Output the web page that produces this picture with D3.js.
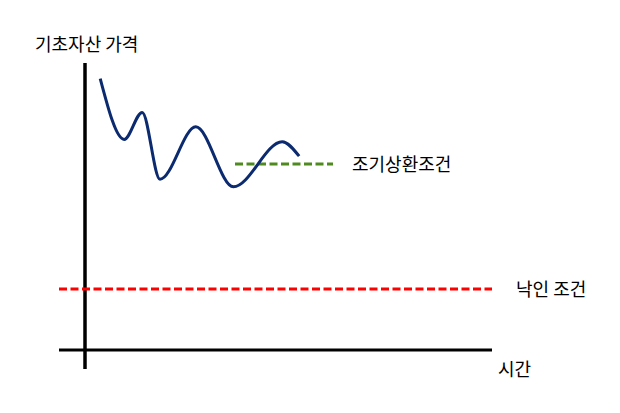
<!DOCTYPE html>
<html><head><meta charset="utf-8">
<script src="https://cdn.jsdelivr.net/npm/d3@7"></script>
<style>html,body{margin:0;padding:0;background:#fff;}svg{display:block;}</style>
</head><body>
<script>
// Conceptual data (time units, price units)
const pathTime  = [3.4, 9.3, 13.8, 18.25, 27.2, 36.6, 48.8, 52.8];
const pathPrice = [90, 70.2, 79.2, 56.9, 74.4, 54.4, 69.4, 65];
const earlyRedemption = {level: 62, from: 37, to: 61.5, label: "조기상환조건"};
const knockIn = {level: 20.3, from: -7, to: 101.25, label: "낙인 조건"};
const axisLabels = {y: "기초자산 가격", x: "시간"};

const W = 620, H = 413;
const x = d3.scaleLinear().domain([0, 100]).range([87, 487]);
const y = d3.scaleLinear().domain([0, 100]).range([350, 50]);

const svg = d3.select("body").append("svg").attr("width", W).attr("height", H);
const font = "'Noto Sans CJK KR', 'Noto Sans', sans-serif";

// axes
svg.append("line").attr("x1", x(-7)).attr("x2", x(101.25)).attr("y1", y(0)).attr("y2", y(0))
  .attr("stroke", "#000").attr("stroke-width", 3);
svg.append("line").attr("x1", x(-0.5)).attr("x2", x(-0.5)).attr("y1", y(95.7)).attr("y2", y(-6.3))
  .attr("stroke", "#000").attr("stroke-width", 3.5);

// knock-in line
svg.append("line").attr("x1", x(knockIn.from)).attr("x2", x(knockIn.to))
  .attr("y1", y(knockIn.level)).attr("y2", y(knockIn.level))
  .attr("stroke", "#ff0000").attr("stroke-width", 3).attr("stroke-dasharray", "8,3.5");

// early redemption line
svg.append("line").attr("x1", x(earlyRedemption.from)).attr("x2", x(earlyRedemption.to))
  .attr("y1", y(earlyRedemption.level)).attr("y2", y(earlyRedemption.level))
  .attr("stroke", "#4e8a1e").attr("stroke-width", 3).attr("stroke-dasharray", "8,3.5");

// price path
const pts = pathTime.map((t, i) => [t, pathPrice[i]]);
svg.append("path").datum(pts)
  .attr("d", d3.line().x(d => x(d[0])).y(d => y(d[1])).curve(d3.curveMonotoneX))
  .attr("fill", "none").attr("stroke", "#0b2a6f").attr("stroke-width", 3).attr("stroke-linecap", "square");

// labels
function label(txt, px, py) {
  svg.append("text").attr("x", px).attr("y", py).attr("dominant-baseline", "central")
    .attr("font-family", font).attr("font-size", 18).attr("fill", "#000").text(txt);
}
label(axisLabels.y, 35, 43);
label(earlyRedemption.label, 352, y(earlyRedemption.level) - 1);
label(knockIn.label, 516, y(knockIn.level) - 1);
label(axisLabels.x, 498, 368);
</script>
</body></html>
